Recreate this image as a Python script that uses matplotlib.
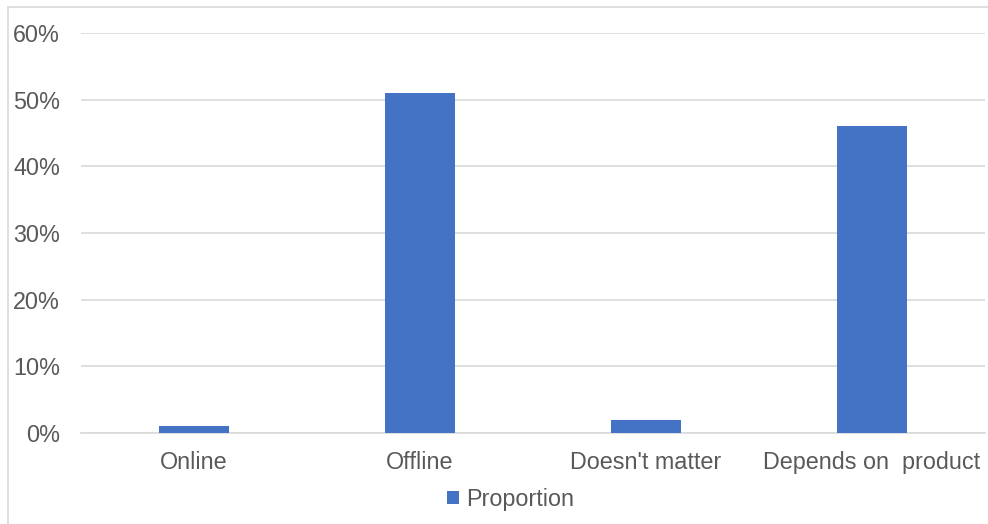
import matplotlib.pyplot as plt
from matplotlib.patches import Rectangle
from matplotlib.ticker import PercentFormatter

categories = ["Online", "Offline", "Doesn't matter", "Depends on  product"]
proportion = [1, 51, 2, 46]
y_ticks = [0, 10, 20, 30, 40, 50, 60]

plt.rcParams["font.family"] = ["Liberation Sans", "DejaVu Sans"]
text_color = "#595959"
bar_color = "#4472C4"

fig = plt.figure(figsize=(9.88, 5.24), dpi=100)
ax = fig.add_axes([0.082, 0.1737, 0.915, 0.7633])

# outer chart border (only top and left edges fall inside the image)
fig.patches.append(Rectangle((8 / 988, -0.05), 1.1, 1.05 - 7 / 524,
                             transform=fig.transFigure, fill=False,
                             edgecolor="#d9d9d9", linewidth=1.2))

x = range(len(categories))
ax.bar(x, proportion, width=0.31, color=bar_color, label="Proportion", zorder=3)

ax.set_xlim(-0.5, len(categories) - 0.5)
ax.set_ylim(0, 60)
ax.set_yticks(y_ticks)
ax.yaxis.set_major_formatter(PercentFormatter(decimals=0))
ax.set_xticks(list(x))
ax.set_xticklabels(categories)

ax.grid(axis="y", color="#d9d9d9", linewidth=1.2, zorder=0)
for side in ["top", "right", "left"]:
    ax.spines[side].set_visible(False)
ax.spines["bottom"].set_color("#d9d9d9")
ax.spines["bottom"].set_linewidth(1.2)
ax.tick_params(axis="both", length=0, labelsize=16.8, colors=text_color)
ax.tick_params(axis="x", pad=13)
ax.tick_params(axis="y", pad=15)

leg = ax.legend(loc="upper center", bbox_to_anchor=(0.475, -0.085), frameon=False,
                fontsize=16.8, handlelength=0.5, handleheight=0.5,
                handletextpad=0.3, labelcolor=text_color)

fig.savefig("out.png", dpi=100)
